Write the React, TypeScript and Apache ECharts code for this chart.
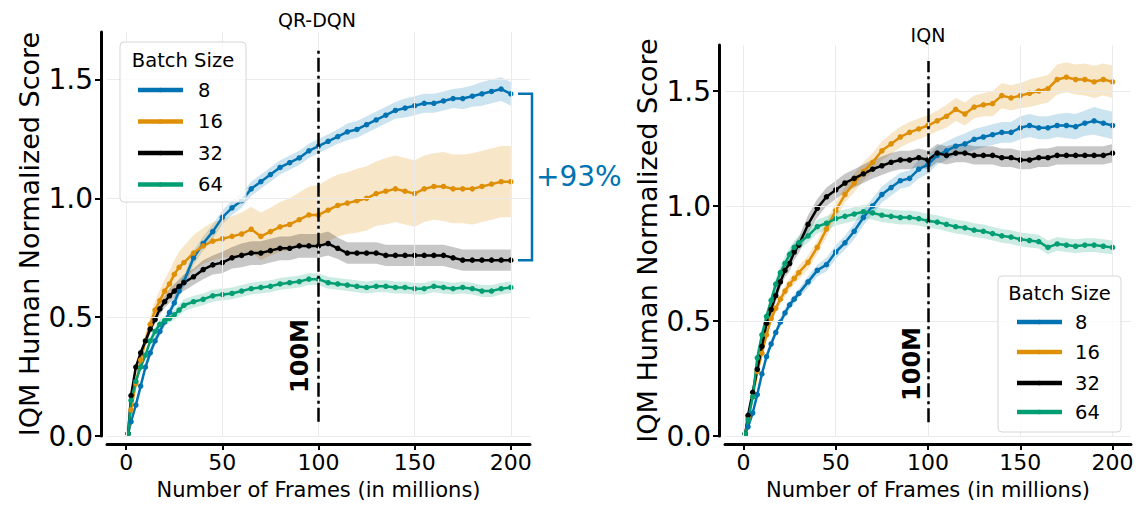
import React, { useEffect, useRef } from "react";
import * as echarts from "echarts";

// ---------- data ----------
const FRAMES = [
  1, 2.5, 5, 7.5, 10, 12.5, 15, 17.5, 20, 22.5, 25, 27.5, 30,
  35, 40, 45, 50, 55, 60, 65, 70, 75, 80, 85, 90, 95, 100, 105, 110, 115, 120,
  125, 130, 135, 140, 145, 150, 155, 160, 165, 170, 175, 180, 185, 190, 195, 200,
];
const BATCH_SIZES = ["8", "16", "32", "64"];
const PANEL_TITLES = ["QR-DQN", "IQN"];
const X_TICKS = [0, 50, 100, 150, 200];
const Y_TICKS = [0, 0.5, 1.0, 1.5];
const MARKER_X = 100;
const MARKER_LABEL = "100M";
const GAIN_LABEL = "+93%";
const Y_LABEL = "IQM Human Normalized Score";
const X_LABEL = "Number of Frames (in millions)";
const LEGEND_TITLE = "Batch Size";

// QR-DQN
const QR_8 = [
  0.01, 0.06, 0.13, 0.21, 0.29, 0.35, 0.4, 0.44, 0.48, 0.52, 0.56, 0.61, 0.65,
  0.75, 0.81, 0.86, 0.92, 0.96, 0.99, 1.04, 1.07, 1.1, 1.13, 1.15, 1.17, 1.2, 1.22, 1.24, 1.26, 1.28, 1.29,
  1.31, 1.33, 1.35, 1.37, 1.38, 1.39, 1.4, 1.4, 1.41, 1.42, 1.42, 1.43, 1.44, 1.45, 1.46, 1.44,
];
const QR_16 = [
  0.01, 0.11, 0.22, 0.32, 0.4, 0.47, 0.53, 0.57, 0.61, 0.64, 0.68, 0.71, 0.73,
  0.77, 0.8, 0.82, 0.83, 0.84, 0.85, 0.87, 0.84, 0.86, 0.88, 0.89, 0.91, 0.93, 0.93, 0.95, 0.97, 0.98, 0.99,
  1.0, 1.02, 1.03, 1.04, 1.03, 1.02, 1.04, 1.05, 1.05, 1.04, 1.04, 1.04, 1.05, 1.06, 1.07, 1.07,
];
const QR_32 = [
  0.01, 0.17, 0.29, 0.35, 0.4, 0.45, 0.49, 0.535, 0.565, 0.59, 0.61, 0.63, 0.645,
  0.67, 0.7, 0.72, 0.73, 0.75, 0.76, 0.77, 0.77, 0.78, 0.79, 0.79, 0.8, 0.8, 0.8, 0.81, 0.79, 0.77, 0.77,
  0.77, 0.77, 0.76, 0.76, 0.76, 0.76, 0.76, 0.76, 0.76, 0.75, 0.74, 0.74, 0.74, 0.74, 0.74, 0.74,
];
const QR_64 = [
  0.01, 0.15, 0.23, 0.29, 0.34, 0.4, 0.44, 0.47, 0.485, 0.495, 0.51, 0.53, 0.55,
  0.565, 0.575, 0.59, 0.595, 0.6, 0.61, 0.62, 0.625, 0.63, 0.64, 0.645, 0.65, 0.66, 0.66, 0.645, 0.64, 0.635, 0.63,
  0.625, 0.63, 0.63, 0.625, 0.625, 0.62, 0.62, 0.63, 0.625, 0.62, 0.625, 0.62, 0.61, 0.61, 0.62, 0.625,
];
// half-widths of the shaded intervals
const QR_8_CI = [
  0.005, 0.01, 0.01, 0.015, 0.015, 0.02, 0.02, 0.02, 0.02, 0.02, 0.025, 0.025, 0.025,
  0.03, 0.03, 0.03, 0.03, 0.03, 0.03, 0.03, 0.03, 0.03, 0.03, 0.03, 0.03, 0.03, 0.03, 0.03, 0.03, 0.035, 0.035,
  0.035, 0.035, 0.035, 0.035, 0.04, 0.04, 0.04, 0.04, 0.04, 0.04, 0.045, 0.045, 0.05, 0.05, 0.05, 0.05,
];
const QR_16_CI = [
  0.005, 0.01, 0.015, 0.02, 0.03, 0.035, 0.04, 0.045, 0.05, 0.055, 0.06, 0.065, 0.07,
  0.075, 0.075, 0.08, 0.08, 0.085, 0.09, 0.095, 0.1, 0.1, 0.105, 0.11, 0.115, 0.12, 0.125, 0.13, 0.13, 0.13, 0.135,
  0.135, 0.135, 0.14, 0.14, 0.14, 0.14, 0.14, 0.14, 0.145, 0.145, 0.145, 0.15, 0.15, 0.15, 0.15, 0.15,
];
const QR_32_CI = [
  0.005, 0.01, 0.01, 0.015, 0.015, 0.02, 0.02, 0.025, 0.025, 0.03, 0.03, 0.03, 0.035,
  0.035, 0.04, 0.04, 0.045, 0.045, 0.05, 0.05, 0.05, 0.05, 0.05, 0.05, 0.05, 0.05, 0.05, 0.05, 0.045, 0.045, 0.045,
  0.045, 0.045, 0.045, 0.045, 0.045, 0.045, 0.045, 0.045, 0.045, 0.045, 0.045, 0.045, 0.045, 0.045, 0.045, 0.045,
];
const QR_64_CI = [
  0.005, 0.01, 0.01, 0.015, 0.015, 0.015, 0.02, 0.02, 0.02, 0.02, 0.02, 0.025, 0.025,
  0.025, 0.025, 0.025, 0.025, 0.025, 0.025, 0.025, 0.025, 0.025, 0.025, 0.025, 0.025, 0.025, 0.025, 0.025, 0.025, 0.025, 0.025,
  0.025, 0.025, 0.025, 0.025, 0.025, 0.025, 0.025, 0.025, 0.025, 0.025, 0.025, 0.025, 0.025, 0.025, 0.025, 0.025,
];

// IQN
const IQN_8 = [
  0.01, 0.04, 0.1, 0.18, 0.27, 0.345, 0.4, 0.45, 0.495, 0.535, 0.57, 0.595, 0.62,
  0.67, 0.72, 0.745, 0.8, 0.84, 0.89, 0.95, 1.0, 1.05, 1.08, 1.11, 1.12, 1.16, 1.18, 1.22, 1.24, 1.26, 1.27,
  1.29, 1.3, 1.31, 1.32, 1.32, 1.34, 1.35, 1.34, 1.34, 1.35, 1.35, 1.345, 1.36, 1.37, 1.36, 1.35,
];
const IQN_16 = [
  0.01, 0.08, 0.17, 0.28, 0.36, 0.44, 0.51, 0.555, 0.595, 0.63, 0.66, 0.685, 0.71,
  0.755, 0.82, 0.9, 0.98, 1.05, 1.1, 1.15, 1.19, 1.24, 1.27, 1.3, 1.32, 1.335, 1.35, 1.37, 1.39, 1.42, 1.4,
  1.43, 1.44, 1.445, 1.48, 1.47, 1.48, 1.49, 1.5, 1.51, 1.55, 1.56, 1.55, 1.55, 1.54, 1.55, 1.54,
];
const IQN_32 = [
  0.01, 0.09, 0.19, 0.29, 0.39, 0.49, 0.55, 0.61, 0.67, 0.72, 0.75, 0.8, 0.83,
  0.92, 0.99, 1.04, 1.07, 1.1, 1.12, 1.14, 1.16, 1.175, 1.19, 1.2, 1.2, 1.21, 1.2, 1.23, 1.22, 1.23, 1.23,
  1.22, 1.22, 1.22, 1.21, 1.21, 1.2, 1.2, 1.21, 1.21, 1.22, 1.22, 1.22, 1.22, 1.22, 1.22, 1.23,
];
const IQN_64 = [
  0.01, 0.07, 0.17, 0.34, 0.44, 0.52, 0.59, 0.66, 0.71, 0.75, 0.79, 0.82, 0.84,
  0.87, 0.91, 0.925, 0.945, 0.955, 0.965, 0.975, 0.97, 0.96, 0.955, 0.95, 0.95, 0.945, 0.935, 0.93, 0.92, 0.91, 0.905,
  0.895, 0.89, 0.88, 0.87, 0.865, 0.855, 0.85, 0.845, 0.82, 0.835, 0.83, 0.825, 0.83, 0.83, 0.825, 0.82,
];
const IQN_8_CI = [
  0.005, 0.008, 0.01, 0.01, 0.012, 0.015, 0.015, 0.015, 0.02, 0.02, 0.02, 0.02, 0.02,
  0.025, 0.025, 0.03, 0.03, 0.03, 0.035, 0.035, 0.035, 0.035, 0.035, 0.035, 0.035, 0.04, 0.04, 0.04, 0.04, 0.04, 0.045,
  0.045, 0.045, 0.045, 0.045, 0.045, 0.05, 0.05, 0.05, 0.05, 0.05, 0.055, 0.055, 0.055, 0.06, 0.06, 0.06,
];
const IQN_16_CI = [
  0.005, 0.01, 0.012, 0.015, 0.015, 0.02, 0.02, 0.02, 0.02, 0.025, 0.025, 0.025, 0.03,
  0.03, 0.03, 0.035, 0.035, 0.035, 0.04, 0.04, 0.04, 0.04, 0.045, 0.045, 0.045, 0.045, 0.045, 0.045, 0.05, 0.05, 0.05,
  0.05, 0.05, 0.055, 0.055, 0.055, 0.055, 0.06, 0.06, 0.06, 0.065, 0.065, 0.065, 0.07, 0.07, 0.07, 0.07,
];
const IQN_32_CI = [
  0.005, 0.01, 0.015, 0.02, 0.02, 0.025, 0.025, 0.03, 0.03, 0.03, 0.035, 0.035, 0.035,
  0.04, 0.04, 0.04, 0.04, 0.04, 0.04, 0.04, 0.04, 0.04, 0.04, 0.04, 0.04, 0.04, 0.04, 0.04, 0.04, 0.04, 0.04,
  0.04, 0.04, 0.04, 0.04, 0.04, 0.04, 0.04, 0.04, 0.04, 0.04, 0.04, 0.04, 0.04, 0.04, 0.04, 0.04,
];
const IQN_64_CI = [
  0.005, 0.01, 0.015, 0.02, 0.02, 0.025, 0.025, 0.025, 0.03, 0.03, 0.03, 0.03, 0.03,
  0.03, 0.03, 0.03, 0.03, 0.03, 0.03, 0.03, 0.03, 0.03, 0.03, 0.03, 0.03, 0.03, 0.03, 0.03, 0.03, 0.03, 0.03,
  0.03, 0.03, 0.03, 0.03, 0.03, 0.03, 0.03, 0.03, 0.03, 0.03, 0.03, 0.03, 0.03, 0.03, 0.03, 0.03,
];

const PANELS = [
  { means: [QR_8, QR_16, QR_32, QR_64], cis: [QR_8_CI, QR_16_CI, QR_32_CI, QR_64_CI] },
  { means: [IQN_8, IQN_16, IQN_32, IQN_64], cis: [IQN_8_CI, IQN_16_CI, IQN_32_CI, IQN_64_CI] },
];

// ---------- styles ----------
const FONT = "DejaVu Sans";
const COLORS = ["#0173b2", "#de8f05", "#000000", "#029e73"];
const BAND_COLORS = [
  "rgba(1,115,178,0.2)",
  "rgba(222,143,5,0.22)",
  "rgba(0,0,0,0.22)",
  "rgba(2,158,115,0.2)",
];
const GRIDS = [
  { left: 107, right: 609, top: 32, bottom: 65.5 },
  { left: 725, right: 8, top: 45, bottom: 62.7 },
];

function bandSeries(gi: number, k: number) {
  const m = PANELS[gi].means[k];
  const ci = PANELS[gi].cis[k];
  return {
    type: "custom",
    xAxisIndex: gi,
    yAxisIndex: gi,
    silent: true,
    z: 2,
    clip: true,
    data: [[MARKER_X, m[0]]],
    renderItem: (_params: any, api: any) => {
      const upper = FRAMES.map((x, i) => api.coord([x, m[i] + ci[i]]));
      const lower = FRAMES.map((x, i) => api.coord([x, m[i] - ci[i]])).reverse();
      return {
        type: "polygon",
        shape: { points: [...upper, ...lower] },
        style: { fill: BAND_COLORS[k], stroke: null },
      };
    },
  };
}

function panelSeries(gi: number) {
  const out: any[] = [];
  const { means } = PANELS[gi];
  out.push({
    type: "line",
    xAxisIndex: gi,
    yAxisIndex: gi,
    data: [],
    silent: true,
    z: 0,
    markLine: {
      silent: true,
      symbol: "none",
      animation: false,
      label: { show: false },
      lineStyle: { color: "#ebebeb", width: 1, type: "solid" },
      data: [...X_TICKS.map((v) => ({ xAxis: v })), ...Y_TICKS.map((v) => ({ yAxis: v }))],
    },
  });
  means.forEach((m, k) => {
    out.push(bandSeries(gi, k));
    out.push({
      type: "line",
      name: BATCH_SIZES[k],
      xAxisIndex: gi,
      yAxisIndex: gi,
      data: FRAMES.map((x, i) => [x, m[i]]),
      symbol: "circle",
      symbolSize: 5.5,
      showSymbol: true,
      showAllSymbol: true,
      lineStyle: { color: COLORS[k], width: 2.5 },
      itemStyle: { color: COLORS[k] },
      z: 3,
    });
  });
  out.push({
    type: "line",
    xAxisIndex: gi,
    yAxisIndex: gi,
    data: [],
    silent: true,
    z: 6,
    markLine: {
      silent: true,
      symbol: "none",
      animation: false,
      label: { show: false },
      lineStyle: { color: "#000", width: 2.5, type: [14, 4, 3, 4] },
      data: [[{ coord: [MARKER_X, 0.06] }, { coord: [MARKER_X, 1.63] }]],
    },
  });
  return out;
}

function text(x: number, y: number, t: string, size: number, extra: any = {}) {
  return {
    type: "text",
    x,
    y,
    rotation: extra.rotation || 0,
    z: 50,
    style: {
      text: t,
      fontSize: size,
      fontFamily: FONT,
      fontWeight: extra.bold ? "bold" : "normal",
      fill: extra.fill || "#000",
      align: extra.align || "center",
      verticalAlign: "middle",
    },
  };
}

function legend(bx: number, by: number, bw: number, bh: number, titleY: number, rows: number[], lx1: number, lx2: number, tx: number) {
  const els: any[] = [
    {
      type: "rect",
      shape: { x: bx, y: by, width: bw, height: bh, r: 4 },
      style: { fill: "rgba(255,255,255,0.8)", stroke: "#d6d6d6", lineWidth: 1 },
      z: 40,
    },
    text(bx + bw / 2, titleY, LEGEND_TITLE, 19.5),
  ];
  BATCH_SIZES.forEach((b, k) => {
    els.push({
      type: "line",
      shape: { x1: lx1, y1: rows[k], x2: lx2, y2: rows[k] },
      style: { stroke: COLORS[k], lineWidth: 4.5 },
      z: 45,
    });
    els.push({
      type: "circle",
      shape: { cx: (lx1 + lx2) / 2, cy: rows[k], r: 2.2 },
      style: { fill: COLORS[k] },
      z: 46,
    });
    els.push(text(tx, rows[k], b, 19.5, { align: "left" }));
  });
  return els;
}

function axes() {
  const xAxis: any[] = [];
  const yAxis: any[] = [];
  [0, 1].forEach((gi) => {
    xAxis.push({
      type: "value",
      gridIndex: gi,
      min: -10,
      max: 210,
      offset: 8,
      axisLine: { show: true, onZero: false, lineStyle: { color: "#000", width: 3 } },
      axisTick: { show: true, length: 6, customValues: X_TICKS, lineStyle: { color: "#000", width: 2 } },
      axisLabel: {
        customValues: X_TICKS,
        fontSize: 22,
        fontFamily: FONT,
        color: "#000",
        margin: 7,
      },
      splitLine: { show: false },
      name: X_LABEL,
      nameLocation: "middle",
      nameGap: 35,
      nameTextStyle: { fontSize: 21, fontFamily: FONT, color: "#000" },
    });
    yAxis.push({
      type: "value",
      gridIndex: gi,
      min: 0,
      max: 1.7,
      offset: 6,
      axisLine: { show: true, onZero: false, lineStyle: { color: "#000", width: 3 } },
      axisTick: { show: true, length: 6, customValues: Y_TICKS, lineStyle: { color: "#000", width: 2 } },
      axisLabel: {
        customValues: Y_TICKS,
        formatter: (v: number) => v.toFixed(1),
        fontSize: 28,
        fontFamily: FONT,
        color: "#000",
        margin: 8,
      },
      splitLine: { show: false },
      name: Y_LABEL,
      nameLocation: "middle",
      nameGap: 58,
      nameTextStyle: { fontSize: 27, fontFamily: FONT, color: "#000" },
    });
  });
  return { xAxis, yAxis };
}

export default function App() {
  const ref = useRef<HTMLDivElement>(null);
  useEffect(() => {
    if (!ref.current) return;
    const chart = echarts.init(ref.current, null, { renderer: "svg" });
    const { xAxis, yAxis } = axes();
    chart.setOption({
      animation: false,
      backgroundColor: "#ffffff",
      grid: GRIDS,
      xAxis,
      yAxis,
      series: [...panelSeries(0), ...panelSeries(1)],
    });

    const qrLast = QR_8.length - 1;
    const pTop = chart.convertToPixel({ gridIndex: 0 }, [200, QR_8[qrLast]]) as number[];
    const pBot = chart.convertToPixel({ gridIndex: 0 }, [200, QR_32[qrLast]]) as number[];
    const bx = 532;
    const graphic: any[] = [
      text(317, 20, PANEL_TITLES[0], 19),
      text(928, 35, PANEL_TITLES[1], 19),
      text(300, 356, MARKER_LABEL, 24, { bold: true, rotation: Math.PI / 2 }),
      text(912, 364, MARKER_LABEL, 24, { bold: true, rotation: Math.PI / 2 }),
      {
        type: "polyline",
        shape: { points: [[518, pTop[1]], [bx, pTop[1]], [bx, pBot[1]], [518, pBot[1]]] },
        style: { stroke: COLORS[0], lineWidth: 2.5, fill: null },
        z: 50,
      },
      text(536, (pTop[1] + pBot[1]) / 2, GAIN_LABEL, 28, { align: "left", fill: COLORS[0] }),
      ...legend(120, 42, 126, 160, 60, [90, 121.5, 153, 184.5], 138, 183, 198),
      ...legend(998, 276, 123, 156, 293, [322, 352, 383, 412], 1017, 1062, 1075),
    ];
    chart.setOption({ graphic });
    return () => chart.dispose();
  }, []);
  return (
    <div
      ref={ref}
      style={{ position: "fixed", left: 0, top: 0, width: 1139, height: 505, background: "#fff" }}
    />
  );
}
